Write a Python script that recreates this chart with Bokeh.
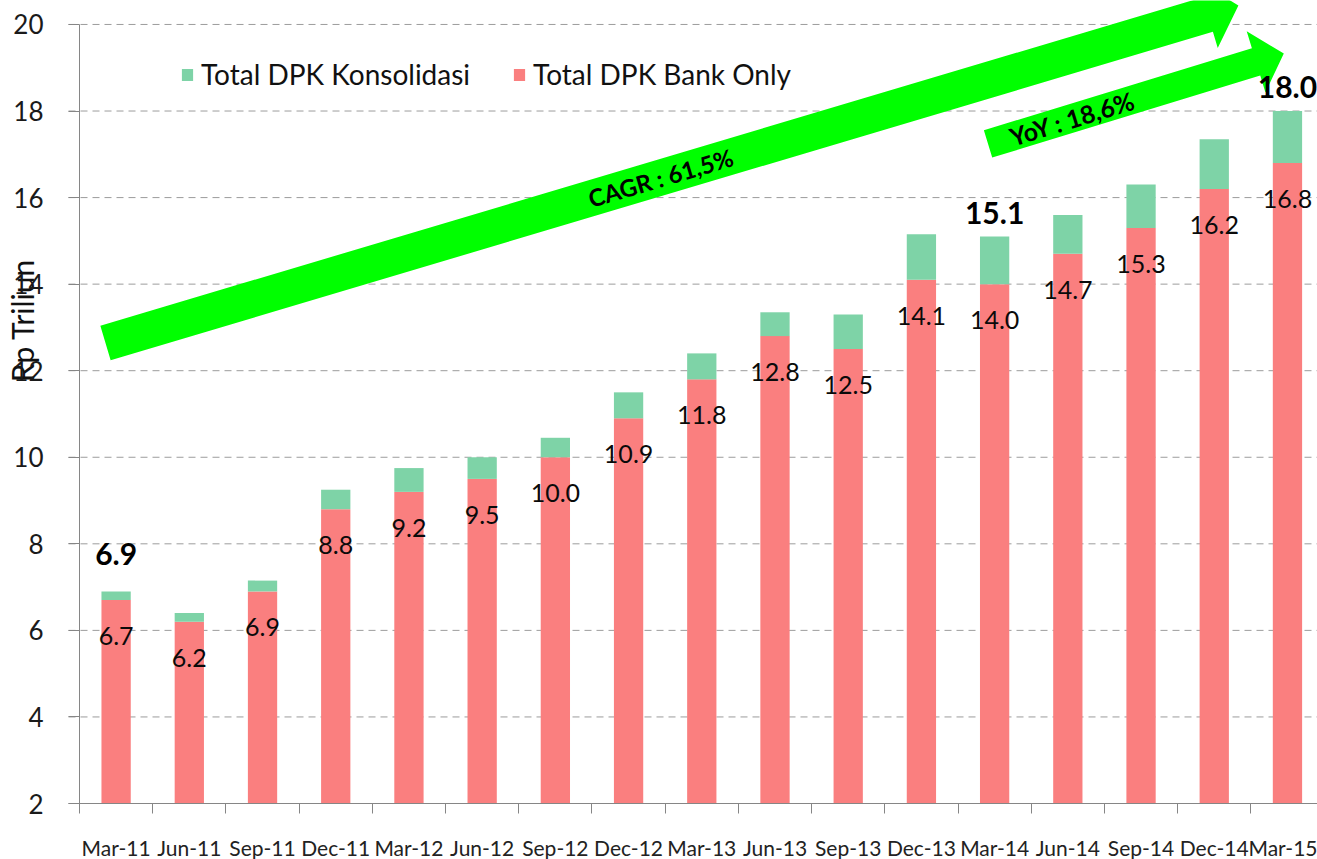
import math
from bokeh.plotting import figure
from bokeh.models import (Range1d, FixedTicker, ColumnDataSource, Legend,
                          LegendItem)
from bokeh.core.properties import value
from bokeh.embed import file_html
from bokeh.resources import INLINE

# ---------------- data ----------------
categories = ["Mar-11", "Jun-11", "Sep-11", "Dec-11", "Mar-12", "Jun-12",
              "Sep-12", "Dec-12", "Mar-13", "Jun-13", "Sep-13", "Dec-13",
              "Mar-14", "Jun-14", "Sep-14", "Dec-14", "Mar-15"]
bank_only = [6.7, 6.2, 6.9, 8.8, 9.2, 9.5, 10.0, 10.9, 11.8, 12.8, 12.5,
             14.1, 14.0, 14.7, 15.3, 16.2, 16.8]
konsolidasi_extra = [0.2, 0.2, 0.25, 0.45, 0.55, 0.5, 0.45, 0.6, 0.6, 0.55,
                     0.8, 1.05, 1.1, 0.9, 1.0, 1.15, 1.2]
y_ticks = [2, 4, 6, 8, 10, 12, 14, 16, 18, 20]
highlight_idx = [0, 12, 16]
series_names = ["Total DPK Konsolidasi", "Total DPK Bank Only"]
y_title = "Rp Triliun"
y_title_pos = (-1.28, 13.16)
cagr_text = "CAGR : 61,5%"
yoy_text = "YoY : 18,6%"
cagr_tail, cagr_tip = (-0.145, 12.64), (15.33, 20.44)
yoy_tail, yoy_tip = (11.91, 17.24), (15.95, 19.33)

totals = [round(b + k, 2) for b, k in zip(bank_only, konsolidasi_extra)]
xs = list(range(len(categories)))
y_base = y_ticks[0]

# ---------------- geometry ----------------
W, H = 1317, 859
AXIS_PX_LEFT = 79       # y axis distance from the left edge
AXIS_PX_BOTTOM = 56     # x axis distance from the bottom edge
PX_PER_CAT = 73.21
PX_PER_UNIT = 43.28
X_AXIS = -0.5
X0 = X_AXIS - AXIS_PX_LEFT / PX_PER_CAT
X1 = X0 + W / PX_PER_CAT
Y0 = y_base - AXIS_PX_BOTTOM / PX_PER_UNIT
Y1 = Y0 + H / PX_PER_UNIT
TICK_OUT = 11
X_GRID_START = X_AXIS - TICK_OUT / PX_PER_CAT

RED = "#FA7F7F"
GREEN = "#7ED3A7"
LIME = "#00FF00"
FONT = "Lato"
AXIS_GRAY = "#868686"

p = figure(width=W, height=H, x_range=Range1d(X0, X1), y_range=Range1d(Y0, Y1),
           output_backend="svg", toolbar_location=None,
           min_border_left=0, min_border_right=0, min_border_top=0,
           min_border_bottom=0)
p.outline_line_color = None
p.background_fill_color = "white"
p.border_fill_color = "white"

src = ColumnDataSource(dict(x=xs, bank=bank_only, kons=konsolidasi_extra,
                            total=totals, cat=categories,
                            base=[y_base] * len(xs),
                            lbl=[f"{v:.1f}" for v in bank_only]))

# grid (dashed segments starting at the tick marks)
p.xgrid.visible = False
p.ygrid.visible = False
grid_y = y_ticks[1:]
p.segment(x0=[X_GRID_START] * len(grid_y), x1=[X1] * len(grid_y),
          y0=grid_y, y1=grid_y, line_color="#9C9C9C", line_dash="7 5",
          line_width=1)

kx = W / (X1 - X0)
ky = H / (Y1 - Y0)


def arrow_poly(tail, tip, shaft, head_w, head_len):
    tx, ty = tail[0] * kx, tail[1] * ky
    px, py = tip[0] * kx, tip[1] * ky
    dx, dy = px - tx, py - ty
    L = math.hypot(dx, dy)
    ux, uy = dx / L, dy / L
    nx, ny = -uy, ux
    bx, by = px - ux * head_len, py - uy * head_len
    s, h = shaft / 2.0, head_w / 2.0
    pts = [(tx + nx * s, ty + ny * s), (bx + nx * s, by + ny * s),
           (bx + nx * h, by + ny * h), (px, py),
           (bx - nx * h, by - ny * h), (bx - nx * s, by - ny * s),
           (tx - nx * s, ty - ny * s)]
    return [q[0] / kx for q in pts], [q[1] / ky for q in pts], math.atan2(dy, dx)


def along(tail, tip, t):
    return tail[0] + (tip[0] - tail[0]) * t, tail[1] + (tip[1] - tail[1]) * t


# bars (start at the axis minimum)
r_bank = p.vbar(x="x", bottom="base", top="bank", width=0.4, source=src,
                fill_color=RED, line_color=None)
r_kons = p.vbar(x="x", bottom="bank", top="total", width=0.4, source=src,
                fill_color=GREEN, line_color=None)

# green arrows
ax1, ay1, ang1 = arrow_poly(cagr_tail, cagr_tip, 36, 70, 32)
ax2, ay2, ang2 = arrow_poly(yoy_tail, yoy_tip, 28.5, 64, 29)
p.patch(ax1, ay1, fill_color=LIME, line_color=None)
p.patch(ax2, ay2, fill_color=LIME, line_color=None)

cx, cy = along(cagr_tail, cagr_tip, 0.49)
p.text(x=[cx], y=[cy], text=[cagr_text], angle=ang1, text_align="center",
       text_baseline="middle", text_font=value(FONT), text_font_style="bold",
       text_font_size="24px", text_color="black")
yx, yy = along(yoy_tail, yoy_tip, 0.285)
p.text(x=[yx], y=[yy], text=[yoy_text], angle=ang2, text_align="center",
       text_baseline="middle", text_font=value(FONT), text_font_style="bold",
       text_font_size="25px", text_color="black")

# bank-only value labels
p.text(x="x", y="bank", text="lbl", source=src, y_offset=36,
       text_align="center", text_baseline="middle", text_font=value(FONT),
       text_font_size="25px", text_color="#0A0A0A")

# highlighted totals
total_offsets = [-37, -24, -24]
for i, off in zip(highlight_idx, total_offsets):
    p.text(x=[xs[i]], y=[totals[i]], text=[f"{totals[i]:.1f}"], y_offset=off,
           text_align="center", text_baseline="middle", text_font=value(FONT),
           text_font_style="bold", text_font_size="30px", text_color="black")

# y title
p.text(x=[y_title_pos[0]], y=[y_title_pos[1]], text=[y_title], angle=math.pi / 2,
       text_align="center", text_baseline="middle", text_font=value(FONT),
       text_font_size="30px", text_color="#111111")

# axes (placed at fixed data positions inside the frame)
xa = p.xaxis[0]
xa.fixed_location = y_base
xa.ticker = FixedTicker(ticks=xs, minor_ticks=[i - 0.5 for i in range(len(xs) + 1)])
xa.major_label_overrides = {i: c for i, c in enumerate(categories)}
xa.bounds = (X_GRID_START, X1)
xa.major_tick_line_color = None
xa.major_tick_out = 0
xa.major_tick_in = 0
xa.minor_tick_line_color = AXIS_GRAY
xa.minor_tick_out = 10
xa.minor_tick_in = 0
xa.axis_line_color = AXIS_GRAY
xa.major_label_standoff = 21
xa.major_label_text_font = FONT
xa.major_label_text_font_size = "21px"
xa.major_label_text_color = "#222222"

ya = p.yaxis[0]
ya.fixed_location = X_AXIS
ya.ticker = FixedTicker(ticks=y_ticks)
ya.bounds = (y_ticks[0], y_ticks[-1])
ya.axis_line_color = AXIS_GRAY
ya.major_tick_line_color = AXIS_GRAY
ya.major_tick_out = TICK_OUT
ya.major_tick_in = 0
ya.minor_tick_line_color = None
ya.major_label_standoff = 25
ya.major_label_text_font = FONT
ya.major_label_text_font_size = "26px"
ya.major_label_text_color = "#1A1A1A"

legend = Legend(items=[LegendItem(label=series_names[0], renderers=[r_kons]),
                       LegendItem(label=series_names[1], renderers=[r_bank])],
                orientation="horizontal", location=(180, 768),
                border_line_color=None, background_fill_alpha=0,
                label_text_font=FONT, label_text_font_size="28px",
                label_text_color="#111111", glyph_width=14, glyph_height=15,
                label_standoff=7, spacing=42, padding=0, margin=0)
p.add_layout(legend)

open("out.html", "w").write(file_html(p, INLINE))
